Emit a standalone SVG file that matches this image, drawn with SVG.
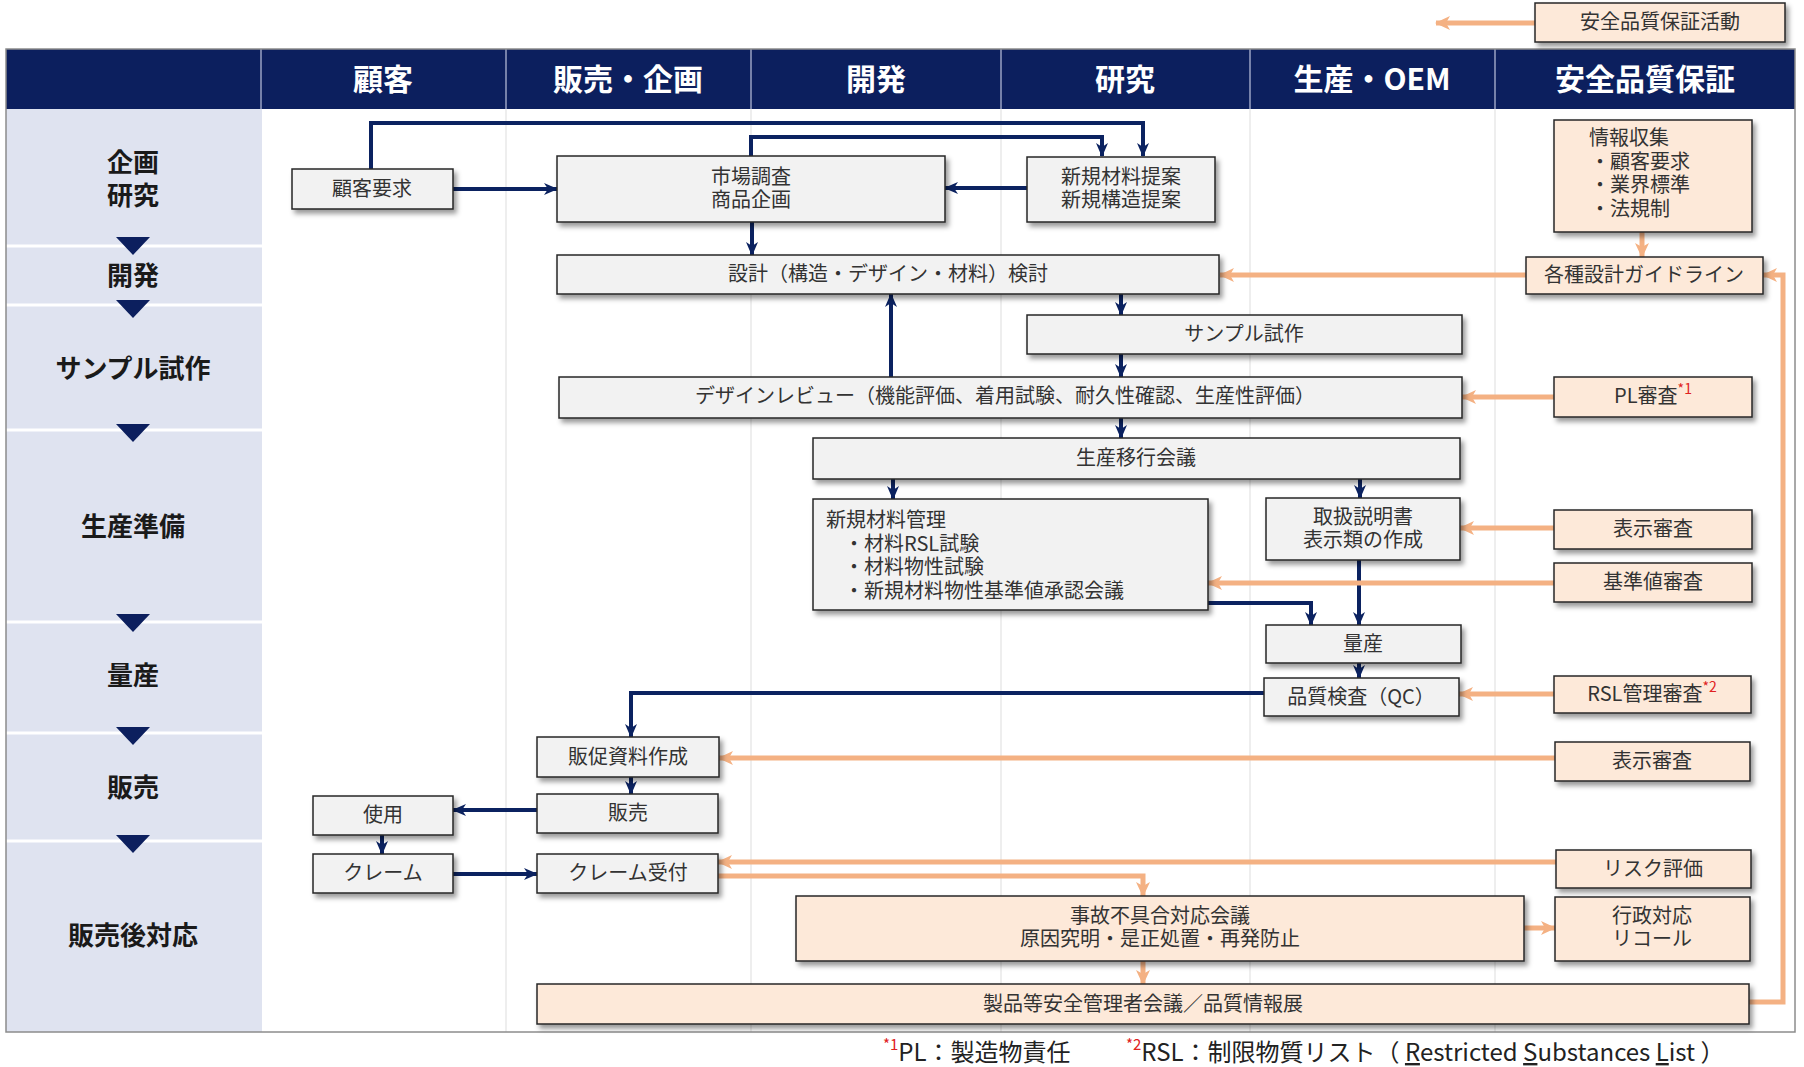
<svg xmlns="http://www.w3.org/2000/svg" width="1804" height="1067" viewBox="0 0 1804 1067">
<style>
.bx{fill:#f2f2f2;stroke:#262626;stroke-width:1.5;filter:url(#sh)}
.ob{fill:#fde9d9;stroke:#262626;stroke-width:1.5;filter:url(#sh)}
.t{font-family:"Noto Sans CJK JP","Noto Sans",sans-serif;font-size:20px;fill:#333;text-anchor:middle;dominant-baseline:central}
.tl{font-family:"Noto Sans CJK JP","Noto Sans",sans-serif;font-size:20px;fill:#333;text-anchor:start;dominant-baseline:central}
.hd{font-family:"Noto Sans CJK JP","Noto Sans",sans-serif;font-size:30px;font-weight:bold;fill:#fff;text-anchor:middle;dominant-baseline:central}
.ln{font-family:"Noto Sans CJK JP","Noto Sans",sans-serif;font-size:26px;font-weight:bold;fill:#1a1a1a;text-anchor:middle;dominant-baseline:central}
.sup{fill:#e02020;font-size:14px}
.nv{fill:none;stroke:#0b2260;stroke-width:4;marker-end:url(#an)}
.or{fill:none;stroke:#f4b183;stroke-width:5;marker-end:url(#ao)}
.fn{font-family:"Noto Sans CJK JP","Noto Sans",sans-serif;font-size:24px;fill:#222;dominant-baseline:central}
</style>
<defs>
<filter id="sh" x="-10%" y="-20%" width="130%" height="160%">
<feDropShadow dx="3" dy="4" stdDeviation="2.5" flood-color="#000" flood-opacity="0.4"/>
</filter>
<marker id="an" markerWidth="14" markerHeight="14" refX="13" refY="7" orient="auto" markerUnits="userSpaceOnUse">
<path d="M0,1 L14,7 L0,13 L4,7 z" fill="#0b2260"/>
</marker>
<marker id="ao" markerWidth="16" markerHeight="16" refX="14" refY="8" orient="auto" markerUnits="userSpaceOnUse">
<path d="M0,1 L15,8 L0,15 L4,8 z" fill="#f4b183"/>
</marker>
</defs>

<rect width="1804" height="1067" fill="#fff"/>

<g id="table">
<rect x="6" y="109" width="256" height="923" fill="#dfe3f0"/>
<g stroke="#e3e3e3" stroke-width="1.2">
<line x1="506" y1="109" x2="506" y2="1032"/>
<line x1="751" y1="109" x2="751" y2="1032"/>
<line x1="1001" y1="109" x2="1001" y2="1032"/>
<line x1="1250" y1="109" x2="1250" y2="1032"/>
<line x1="1495" y1="109" x2="1495" y2="1032"/>
</g>
<g stroke="#fff" stroke-width="3">
<line x1="6" y1="246" x2="262" y2="246"/>
<line x1="6" y1="305" x2="262" y2="305"/>
<line x1="6" y1="430" x2="262" y2="430"/>
<line x1="6" y1="622" x2="262" y2="622"/>
<line x1="6" y1="733" x2="262" y2="733"/>
<line x1="6" y1="841" x2="262" y2="841"/>
</g>
<rect x="6" y="49" width="1789" height="60" fill="#0c1f5e"/>
<g stroke="#9aa3c4" stroke-width="1.5">
<line x1="261" y1="49" x2="261" y2="109"/>
<line x1="506" y1="49" x2="506" y2="109"/>
<line x1="751" y1="49" x2="751" y2="109"/>
<line x1="1001" y1="49" x2="1001" y2="109"/>
<line x1="1250" y1="49" x2="1250" y2="109"/>
<line x1="1495" y1="49" x2="1495" y2="109"/>
</g>
<rect x="6" y="49" width="1789" height="983" fill="none" stroke="#8c8c8c" stroke-width="1.5"/>
<text class="hd" x="383" y="77">顧客</text>
<text class="hd" x="628" y="77">販売・企画</text>
<text class="hd" x="876" y="77">開発</text>
<text class="hd" x="1125" y="77">研究</text>
<text class="hd" x="1372" y="77">生産・OEM</text>
<text class="hd" x="1645" y="77">安全品質保証</text>
<text class="ln" x="133" y="160">企画<tspan x="133" dy="33">研究</tspan></text>
<text class="ln" x="133" y="273">開発</text>
<text class="ln" x="133" y="366">サンプル試作</text>
<text class="ln" x="133" y="524">生産準備</text>
<text class="ln" x="133" y="673">量産</text>
<text class="ln" x="133" y="785">販売</text>
<text class="ln" x="133" y="933">販売後対応</text>
<g fill="#0c1f5e">
<polygon points="116,237 150,237 133,255"/>
<polygon points="116,300 150,300 133,318"/>
<polygon points="116,424 150,424 133,442"/>
<polygon points="116,614 150,614 133,632"/>
<polygon points="116,727 150,727 133,745"/>
<polygon points="116,835 150,835 133,853"/>
</g>
</g>

<g id="connectors">
<polyline class="nv" points="371,169 371,123 1143,123 1143,156"/>
<polyline class="nv" points="751,156 751,137 1102,137 1102,156"/>
<line class="nv" x1="453" y1="189" x2="557" y2="189"/>
<line class="nv" x1="1027" y1="188" x2="945" y2="188"/>
<line class="nv" x1="752" y1="222" x2="752" y2="255"/>
<line class="nv" x1="1121" y1="294" x2="1121" y2="315"/>
<line class="nv" x1="1121" y1="354" x2="1121" y2="377"/>
<line class="nv" x1="891" y1="377" x2="891" y2="294"/>
<line class="nv" x1="1121" y1="418" x2="1121" y2="438"/>
<line class="nv" x1="893" y1="479" x2="893" y2="499"/>
<line class="nv" x1="1360" y1="479" x2="1360" y2="498"/>
<polyline class="nv" points="1208,603 1311,603 1311,625"/>
<line class="nv" x1="1359" y1="560" x2="1359" y2="625"/>
<line class="nv" x1="1359" y1="663" x2="1359" y2="678"/>
<polyline class="nv" points="1264,693 631,693 631,737"/>
<line class="nv" x1="631" y1="777" x2="631" y2="794"/>
<line class="nv" x1="537" y1="810" x2="453" y2="810"/>
<line class="nv" x1="382" y1="835" x2="382" y2="854"/>
<line class="nv" x1="453" y1="874" x2="537" y2="874"/>

<line class="or" x1="1535" y1="23" x2="1436" y2="23"/>
<line class="or" x1="1642" y1="232" x2="1642" y2="257"/>
<line class="or" x1="1526" y1="275" x2="1220" y2="275"/>
<line class="or" x1="1554" y1="397" x2="1462" y2="397"/>
<line class="or" x1="1554" y1="528" x2="1460" y2="528"/>
<line class="or" x1="1554" y1="583" x2="1208" y2="583"/>
<line class="or" x1="1554" y1="694" x2="1459" y2="694"/>
<line class="or" x1="1555" y1="758" x2="719" y2="758"/>
<line class="or" x1="1556" y1="862" x2="718" y2="862"/>
<polyline class="or" points="718,876 1143,876 1143,896"/>
<line class="or" x1="1524" y1="928" x2="1555" y2="928"/>
<line class="or" x1="1143" y1="961" x2="1143" y2="984"/>
<polyline class="or" points="1749,1002 1783,1002 1783,275 1763,275"/>
</g>

<g id="n-legend"><rect class="ob" x="1535" y="3" width="250" height="39"/><text class="t" x="1660" y="20">安全品質保証活動</text></g>
<g id="n-kokyakuyokyu"><rect class="bx" x="292" y="169" width="161" height="40"/><text class="t" x="372" y="187">顧客要求</text></g>
<g id="n-shijo"><rect class="bx" x="557" y="156" width="388" height="66"/><text class="t" x="751" y="175">市場調査<tspan x="751" dy="23">商品企画</tspan></text></g>
<g id="n-shinki"><rect class="bx" x="1027" y="157" width="188" height="65"/><text class="t" x="1121" y="175">新規材料提案<tspan x="1121" dy="23">新規構造提案</tspan></text></g>
<g id="n-sekkei"><rect class="bx" x="557" y="255" width="662" height="39"/><text class="t" x="888" y="272">設計（構造・デザイン・材料）検討</text></g>
<g id="n-sample"><rect class="bx" x="1027" y="315" width="435" height="39"/><text class="t" x="1244" y="332">サンプル試作</text></g>
<g id="n-review"><rect class="bx" x="559" y="377" width="903" height="41"/><text class="t" x="1005" y="394">デザインレビュー（機能評価、着用試験、耐久性確認、生産性評価）</text></g>
<g id="n-ikou"><rect class="bx" x="813" y="438" width="647" height="41"/><text class="t" x="1136" y="456">生産移行会議</text></g>
<g id="n-zairyo"><rect class="bx" x="813" y="499" width="395" height="111"/>
<text class="tl" x="826" y="518">新規材料管理<tspan x="844" dy="23.5">・材料RSL試験</tspan><tspan x="844" dy="23.5">・材料物性試験</tspan><tspan x="844" dy="23.5">・新規材料物性基準値承認会議</tspan></text></g>
<g id="n-toriatsukai"><rect class="bx" x="1266" y="498" width="194" height="62"/><text class="t" x="1363" y="515">取扱説明書<tspan x="1363" dy="23">表示類の作成</tspan></text></g>
<g id="n-ryosan"><rect class="bx" x="1266" y="625" width="195" height="38"/><text class="t" x="1363" y="642">量産</text></g>
<g id="n-qc"><rect class="bx" x="1264" y="678" width="195" height="38"/><text class="t" x="1361" y="695">品質検査（QC）</text></g>
<g id="n-hansoku"><rect class="bx" x="537" y="737" width="182" height="40"/><text class="t" x="628" y="755">販促資料作成</text></g>
<g id="n-hanbai"><rect class="bx" x="537" y="794" width="181" height="39"/><text class="t" x="628" y="811">販売</text></g>
<g id="n-shiyo"><rect class="bx" x="313" y="796" width="140" height="39"/><text class="t" x="383" y="813">使用</text></g>
<g id="n-claim"><rect class="bx" x="313" y="854" width="140" height="39"/><text class="t" x="383" y="871">クレーム</text></g>
<g id="n-claimuke"><rect class="bx" x="537" y="854" width="181" height="39"/><text class="t" x="628" y="871">クレーム受付</text></g>
<g id="n-jiko"><rect class="ob" x="796" y="896" width="728" height="65"/><text class="t" x="1160" y="914">事故不具合対応会議<tspan x="1160" dy="23">原因究明・是正処置・再発防止</tspan></text></g>
<g id="n-seihin"><rect class="ob" x="537" y="984" width="1212" height="40"/><text class="t" x="1143" y="1002">製品等安全管理者会議／品質情報展</text></g>
<g id="n-joho"><rect class="ob" x="1554" y="120" width="198" height="112"/>
<text class="tl" x="1589" y="136">情報収集<tspan x="1590" dy="23.5">・顧客要求</tspan><tspan x="1590" dy="23.5">・業界標準</tspan><tspan x="1590" dy="23.5">・法規制</tspan></text></g>
<g id="n-guide"><rect class="ob" x="1526" y="257" width="237" height="37"/><text class="t" x="1644" y="273">各種設計ガイドライン</text></g>
<g id="n-pl"><rect class="ob" x="1554" y="377" width="198" height="40"/><text class="t" x="1653" y="394">PL審査<tspan class="sup" dy="-6">*1</tspan></text></g>
<g id="n-hyoji1"><rect class="ob" x="1554" y="510" width="198" height="39"/><text class="t" x="1653" y="527">表示審査</text></g>
<g id="n-kijun"><rect class="ob" x="1554" y="563" width="198" height="39"/><text class="t" x="1653" y="580">基準値審査</text></g>
<g id="n-rsl"><rect class="ob" x="1554" y="676" width="197" height="37"/><text class="t" x="1652" y="692">RSL管理審査<tspan class="sup" dy="-6">*2</tspan></text></g>
<g id="n-hyoji2"><rect class="ob" x="1555" y="742" width="195" height="39"/><text class="t" x="1652" y="759">表示審査</text></g>
<g id="n-risk"><rect class="ob" x="1556" y="850" width="195" height="38"/><text class="t" x="1653" y="867">リスク評価</text></g>
<g id="n-gyosei"><rect class="ob" x="1555" y="897" width="195" height="64"/><text class="t" x="1652" y="914">行政対応<tspan x="1652" dy="23">リコール</tspan></text></g>

<g id="footnote">
<text class="fn" x="883" y="1050"><tspan fill="#e02020" font-size="15" dy="-7">*1</tspan><tspan dy="7">PL：製造物責任</tspan></text>
<text class="fn" x="1126" y="1050"><tspan fill="#e02020" font-size="15" dy="-7">*2</tspan><tspan dy="7">RSL：制限物質リスト（ </tspan><tspan text-decoration="underline">R</tspan><tspan>estricted </tspan><tspan text-decoration="underline">S</tspan><tspan>ubstances </tspan><tspan text-decoration="underline">L</tspan><tspan>ist ）</tspan></text>
</g>
</svg>
